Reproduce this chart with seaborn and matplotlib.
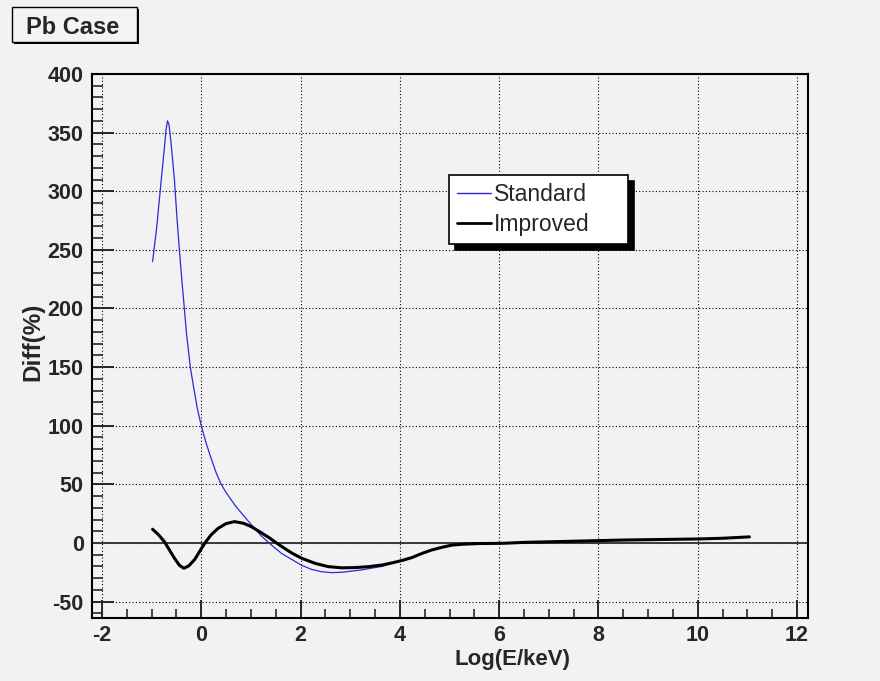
import numpy as np
import pandas as pd
import seaborn as sns
import matplotlib
matplotlib.use("Agg")
import matplotlib.pyplot as plt
from matplotlib.ticker import MultipleLocator
from matplotlib.patches import Rectangle
from matplotlib.lines import Line2D

# ---- data ----
std_x = [-0.98, -0.9, -0.8, -0.74, -0.71, -0.68, -0.65, -0.61, -0.54, -0.49, -0.44,
         -0.39, -0.34, -0.3, -0.22, -0.15, -0.08, 0.0, 0.1, 0.2, 0.3, 0.39, 0.5, 0.6, 0.7,
         0.81, 1.0, 1.21, 1.42, 1.62, 1.82, 2.02, 2.22, 2.42, 2.62, 2.83, 3.03,
         3.23, 3.43, 3.64, 3.8, 4.04, 4.24, 4.44, 4.64, 4.84, 5.05, 5.3, 5.6, 6.06,
         6.5, 7.0, 7.5, 8.0, 8.5, 9.0, 9.5, 10.0, 10.5, 11.04]
std_y = [240, 268, 312, 338, 352, 360, 357, 342, 310, 278, 250,
         224, 200, 180, 150, 132, 115, 100, 85, 72, 60, 51, 43, 37, 31,
         25.5, 16, 6, -2, -9, -14, -19, -22.5, -24.5, -25.3, -25, -24,
         -23, -21.5, -20, -18, -15, -12.5, -9, -6, -3.8, -1.8, -1, -0.5, -0.3,
         0.5, 1.0, 1.5, 2.0, 2.5, 2.8, 3.1, 3.4, 4.0, 5.2]

imp_x = [-0.98, -0.86, -0.74, -0.64, -0.54, -0.44, -0.35, -0.25, -0.13, 0.0, 0.07,
         0.2, 0.34, 0.5, 0.67, 0.85, 1.01, 1.18, 1.35, 1.5, 1.62, 1.82, 2.02, 2.3,
         2.56, 2.83, 3.1, 3.37, 3.64, 3.84, 4.04, 4.24, 4.44, 4.64, 4.84, 5.05,
         5.3, 5.6, 6.06, 6.5, 7.0, 7.5, 8.0, 8.5, 9.0, 9.5, 10.0, 10.5, 11.04]
imp_y = [11.7, 7, 1, -6, -13, -19, -21.6, -19.5, -14, -5, -0.3,
         7, 12.5, 16.5, 18.2, 16.8, 13.9, 9.5, 5, 0.5, -3, -8.5, -13, -17.5,
         -20.2, -21.2, -21, -20.2, -18.8, -17, -15, -12.5, -9, -6, -3.8, -1.8,
         -1, -0.5, -0.3, 0.5, 1.0, 1.5, 2.0, 2.5, 2.8, 3.1, 3.4, 4.0, 5.2]

series_names = ["Standard", "Improved"]
x_ticks = [-2, 0, 2, 4, 6, 8, 10, 12]
y_ticks = [-50, 0, 50, 100, 150, 200, 250, 300, 350, 400]

df = pd.concat([
    pd.DataFrame({"x": std_x, "y": std_y, "series": series_names[0]}),
    pd.DataFrame({"x": imp_x, "y": imp_y, "series": series_names[1]}),
], ignore_index=True)

# ---- style ----
sns.set_style("white")
plt.rcParams["font.family"] = ["Liberation Sans", "DejaVu Sans"]
plt.rcParams["axes.unicode_minus"] = False
BG = "#f2f2f2"
BLUE = "#2a2ad8"

fig = plt.figure(figsize=(8.8, 6.81), dpi=100, facecolor=BG)
ax = fig.add_axes([92 / 880, 1 - 618 / 681, 716 / 880, 544 / 681])
ax.set_facecolor(BG)

ax.grid(True, which="major", color="black", linestyle=(0, (1, 2)), linewidth=0.8)
ax.axhline(0, color="#3a3a3a", lw=1.4, zorder=1.5)

sns.lineplot(data=df, x="x", y="y", hue="series", size="series",
             hue_order=series_names, size_order=series_names,
             palette={"Standard": BLUE, "Improved": "black"},
             sizes={"Standard": 0.9, "Improved": 2.2},
             estimator=None, sort=False, legend=False, ax=ax, zorder=3)

ax.set_xlim(-2.2, 12.22)
ax.set_ylim(-64, 400)
ax.set_xticks(x_ticks)
ax.set_yticks(y_ticks)
ax.xaxis.set_minor_locator(MultipleLocator(0.5))
ax.yaxis.set_minor_locator(MultipleLocator(10))
ax.tick_params(axis="y", which="major", direction="in", length=15.5, width=1.4,
               left=True, right=False, pad=6, labelsize=15.5)
ax.tick_params(axis="y", which="minor", direction="in", length=7.8, width=1.2,
               left=True, right=False)
ax.tick_params(axis="x", which="major", direction="in", length=13, width=1.4,
               bottom=True, top=False, pad=5, labelsize=15.5)
ax.tick_params(axis="x", which="minor", direction="in", length=6.5, width=1.2,
               bottom=True, top=False)
for lab in ax.get_xticklabels() + ax.get_yticklabels():
    lab.set_fontweight("bold")
for s in ax.spines.values():
    s.set_color("black")
    s.set_linewidth(1.5)

ax.set_xlabel("")
ax.set_ylabel("")
fig.text(570 / 880, 1 - 660 / 681, "Log(E/keV)", ha="right", va="center",
         fontsize=16, fontweight="bold")
fig.text(33 / 880, 1 - 342 / 681, "Diff(%)", ha="center", va="center",
         rotation=90, fontsize=17.5, fontweight="bold")

# legend
handles = [Line2D([], [], color=BLUE, lw=1.0), Line2D([], [], color="black", lw=2.0)]
leg = ax.legend(handles, series_names, loc="upper left",
                bbox_to_anchor=(0.499, 0.689, 0.25, 0.125), mode="expand",
                borderaxespad=0, fancybox=False, frameon=True, fontsize=16.5,
                handlelength=1.45, handletextpad=0.15, labelspacing=0.3,
                borderpad=0.35, shadow={"color": "black", "alpha": 1, "ox": 4, "oy": -4})
leg.get_frame().set_facecolor("white")
leg.get_frame().set_edgecolor("black")
leg.get_frame().set_linewidth(1.2)

# title box "Pb Case"
fig.patches.append(Rectangle((14 / 880, 1 - 44 / 681), 125 / 880, 35 / 681,
                             transform=fig.transFigure, facecolor="black",
                             edgecolor="none", zorder=1))
fig.patches.append(Rectangle((12 / 880, 1 - 42 / 681), 125 / 880, 35 / 681,
                             transform=fig.transFigure, facecolor="#f4f4f4",
                             edgecolor="black", lw=1.0, zorder=2))
fig.text(73 / 880, 1 - 27 / 681, "Pb Case", ha="center", va="center",
         fontsize=17, fontweight="bold", zorder=3)

fig.savefig("out.png", dpi=100, facecolor=BG)
